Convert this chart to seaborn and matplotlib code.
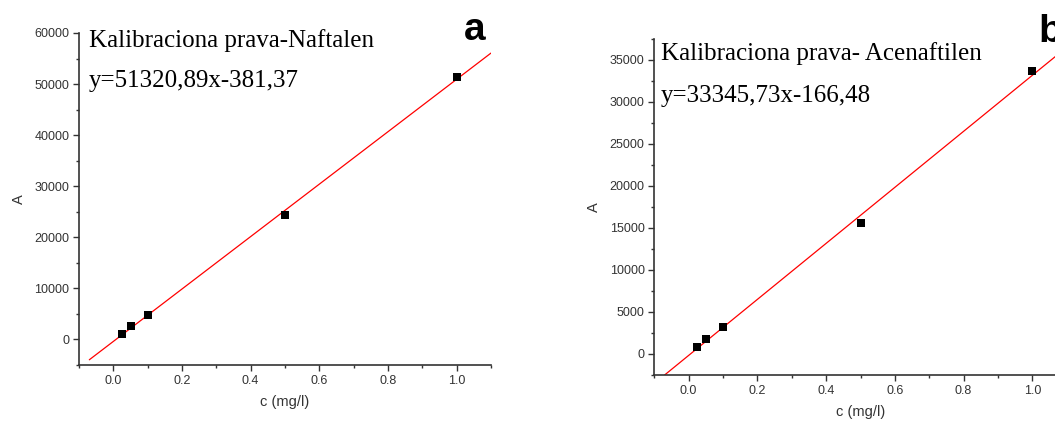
import numpy as np
import pandas as pd
import matplotlib
matplotlib.use("Agg")
import matplotlib.pyplot as plt
import seaborn as sns
from matplotlib.ticker import MultipleLocator

# data
conc = [0.025, 0.05, 0.1, 0.5, 1.0]
area_naftalen = [980, 2660, 4820, 24290, 51380]
area_acenaftilen = [870, 1750, 3250, 15575, 33690]

# fit lines (from the equations in the chart)
slope_a, icpt_a = 51320.89, -381.37
slope_b, icpt_b = 33345.73, -166.48
fit_x = [-0.07, 1.1]

title_a = "Kalibraciona prava-Naftalen"
eq_a = "y=51320,89x-381,37"
title_b = "Kalibraciona prava- Acenaftilen"
eq_b = "y=33345,73x-166,48"

sns.set_style("ticks")
plt.rcParams['font.family'] = ['Liberation Sans', 'DejaVu Sans']
grey = "#333333"

fig = plt.figure(figsize=(10.55, 4.23), dpi=100)
ax1 = fig.add_axes([0.0749, 0.1371, 0.3905, 0.7849])
ax2 = fig.add_axes([0.6202, 0.1135, 0.3909, 0.7943])


def panel(ax, y, slope, icpt, ylim, major, minor):
    df = pd.DataFrame({"c": conc, "A": y})
    fit = pd.DataFrame({"c": fit_x, "A": [slope * v + icpt for v in fit_x]})
    sns.lineplot(data=fit, x="c", y="A", ax=ax, color="red", lw=0.9)
    sns.scatterplot(data=df, x="c", y="A", ax=ax, marker="s", s=30,
                    color="black", edgecolor="black", linewidth=0, zorder=3)
    ax.set_xlim(-0.1, 1.1)
    ax.set_ylim(*ylim)
    ax.xaxis.set_major_locator(MultipleLocator(0.2))
    ax.xaxis.set_minor_locator(MultipleLocator(0.1))
    ax.yaxis.set_major_locator(MultipleLocator(major))
    ax.yaxis.set_minor_locator(MultipleLocator(minor))
    ax.tick_params(which="major", length=4, width=1, color=grey,
                   labelsize=9, labelcolor=grey, pad=3)
    ax.tick_params(which="minor", length=2.5, width=1, color=grey)
    for s in ["top", "right"]:
        ax.spines[s].set_visible(False)
    for s in ["left", "bottom"]:
        ax.spines[s].set_color(grey)
        ax.spines[s].set_linewidth(1.2)
    ax.set_xlabel("c (mg/l)", fontsize=10.5, color=grey, labelpad=6)
    ax.set_ylabel("A", fontsize=10.5, color=grey, labelpad=6)


panel(ax1, area_naftalen, slope_a, icpt_a, (-5000, 60000), 10000, 5000)
panel(ax2, area_acenaftilen, slope_b, icpt_b, (-2500, 37500), 5000, 2500)

serif = ['Liberation Serif', 'DejaVu Serif']
fig.text(89 / 1055, 1 - 47 / 423, title_a, family=serif, fontsize=18,
         va="baseline", color="black")
fig.text(89 / 1055, 1 - 87 / 423, eq_a, family=serif, fontsize=18,
         va="baseline", color="black")
fig.text(661 / 1055, 1 - 60 / 423, title_b, family=serif, fontsize=18,
         va="baseline", color="black")
fig.text(661 / 1055, 1 - 102 / 423, eq_b, family=serif, fontsize=18,
         va="baseline", color="black")
fig.text(464 / 1055, 1 - 40 / 423, "a", fontsize=28, fontweight="bold",
         va="baseline", color="black")
fig.text(1038 / 1055, 1 - 42 / 423, "b", fontsize=28, fontweight="bold",
         va="baseline", color="black")

fig.savefig("out.png", dpi=100)
